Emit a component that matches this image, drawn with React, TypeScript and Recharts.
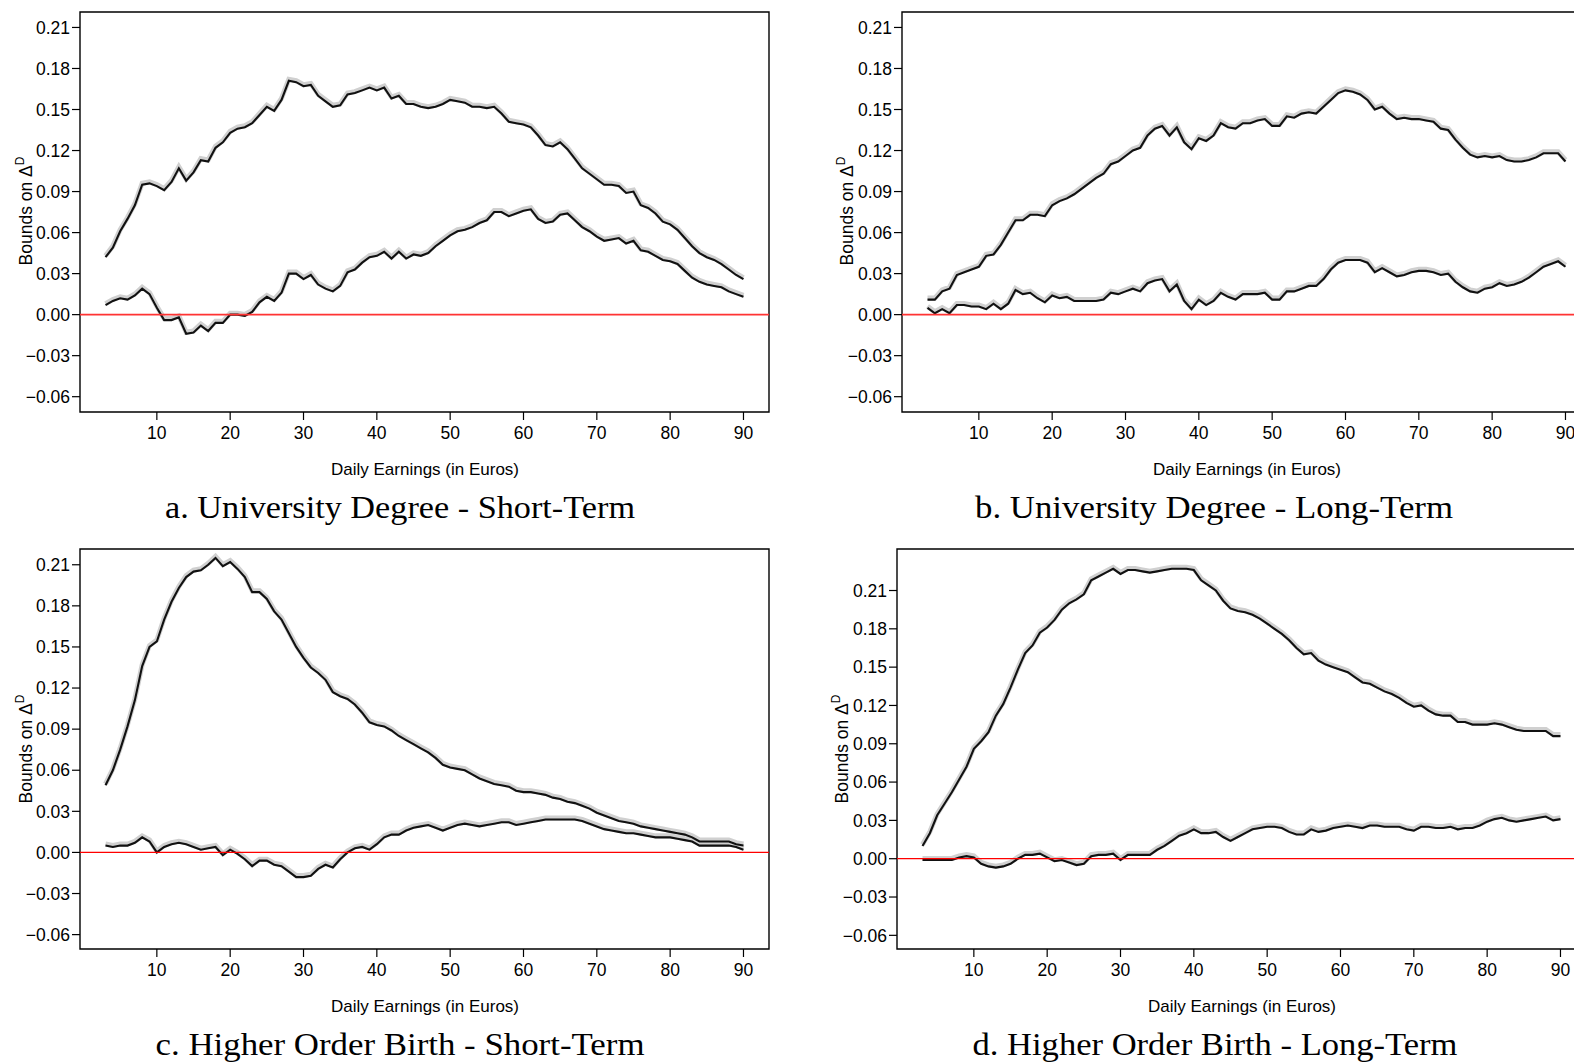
import { LineChart, Line, XAxis, YAxis, ReferenceLine, ReferenceArea } from 'recharts';

// daily earnings grid (euros)
const earnings = [
  3, 4, 5, 6, 7, 8, 9, 10, 11, 12,
  13, 14, 15, 16, 17, 18, 19, 20, 21, 22,
  23, 24, 25, 26, 27, 28, 29, 30, 31, 32,
  33, 34, 35, 36, 37, 38, 39, 40, 41, 42,
  43, 44, 45, 46, 47, 48, 49, 50, 51, 52,
  53, 54, 55, 56, 57, 58, 59, 60, 61, 62,
  63, 64, 65, 66, 67, 68, 69, 70, 71, 72,
  73, 74, 75, 76, 77, 78, 79, 80, 81, 82,
  83, 84, 85, 86, 87, 88, 89, 90,
];

const xTicks = [10, 20, 30, 40, 50, 60, 70, 80, 90];
const yTicks = [-0.06, -0.03, 0, 0.03, 0.06, 0.09, 0.12, 0.15, 0.18, 0.21];

// a. University Degree - Short-Term
const uniShortUpper = [
  0.042, 0.049, 0.061, 0.070, 0.080, 0.095, 0.096, 0.094, 0.091, 0.097,
  0.107, 0.098, 0.104, 0.113, 0.112, 0.122, 0.126, 0.133, 0.136, 0.137,
  0.140, 0.146, 0.152, 0.149, 0.157, 0.171, 0.170, 0.167, 0.168, 0.160,
  0.156, 0.152, 0.153, 0.161, 0.162, 0.164, 0.166, 0.164, 0.166, 0.158,
  0.160, 0.154, 0.154, 0.152, 0.151, 0.152, 0.154, 0.157, 0.156, 0.155,
  0.152, 0.152, 0.151, 0.152, 0.147, 0.141, 0.140, 0.139, 0.137, 0.131,
  0.124, 0.123, 0.126, 0.121, 0.114, 0.107, 0.103, 0.099, 0.095, 0.095,
  0.094, 0.089, 0.090, 0.080, 0.078, 0.074, 0.068, 0.066, 0.062, 0.056,
  0.050, 0.045, 0.042, 0.040, 0.037, 0.033, 0.029, 0.026,
];
const uniShortLower = [
  0.007, 0.010, 0.012, 0.011, 0.014, 0.019, 0.015, 0.005, -0.004, -0.004,
  -0.002, -0.014, -0.013, -0.008, -0.012, -0.006, -0.006, 0.000, 0.000, -0.001,
  0.002, 0.009, 0.013, 0.010, 0.016, 0.030, 0.030, 0.026, 0.029, 0.022,
  0.019, 0.017, 0.021, 0.031, 0.033, 0.038, 0.042, 0.043, 0.046, 0.041,
  0.046, 0.041, 0.044, 0.043, 0.045, 0.050, 0.054, 0.058, 0.061, 0.062,
  0.064, 0.067, 0.069, 0.075, 0.075, 0.072, 0.074, 0.076, 0.077, 0.070,
  0.067, 0.068, 0.073, 0.074, 0.069, 0.064, 0.061, 0.057, 0.054, 0.055,
  0.056, 0.052, 0.054, 0.047, 0.046, 0.043, 0.040, 0.039, 0.037, 0.032,
  0.027, 0.024, 0.022, 0.021, 0.020, 0.017, 0.015, 0.013,
];

// b. University Degree - Long-Term
const uniLongUpper = [
  0.011, 0.011, 0.017, 0.019, 0.029, 0.031, 0.033, 0.035, 0.043, 0.044,
  0.051, 0.060, 0.069, 0.069, 0.073, 0.073, 0.072, 0.080, 0.083, 0.085,
  0.088, 0.092, 0.096, 0.100, 0.103, 0.110, 0.112, 0.116, 0.120, 0.122,
  0.131, 0.136, 0.138, 0.131, 0.137, 0.126, 0.121, 0.129, 0.127, 0.131,
  0.140, 0.137, 0.136, 0.140, 0.140, 0.142, 0.143, 0.138, 0.138, 0.145,
  0.144, 0.147, 0.148, 0.147, 0.152, 0.157, 0.162, 0.164, 0.163, 0.161,
  0.157, 0.150, 0.152, 0.147, 0.143, 0.144, 0.143, 0.143, 0.142, 0.141,
  0.136, 0.135, 0.128, 0.122, 0.117, 0.115, 0.116, 0.115, 0.116, 0.113,
  0.112, 0.112, 0.113, 0.115, 0.118, 0.118, 0.118, 0.112,
];
const uniLongLower = [
  0.005, 0.001, 0.004, 0.001, 0.007, 0.007, 0.006, 0.006, 0.004, 0.008,
  0.004, 0.008, 0.018, 0.015, 0.016, 0.012, 0.009, 0.014, 0.012, 0.013,
  0.010, 0.010, 0.010, 0.010, 0.011, 0.016, 0.015, 0.017, 0.019, 0.017,
  0.023, 0.025, 0.026, 0.017, 0.022, 0.010, 0.004, 0.011, 0.007, 0.010,
  0.016, 0.013, 0.011, 0.015, 0.015, 0.015, 0.016, 0.011, 0.011, 0.017,
  0.017, 0.019, 0.021, 0.021, 0.026, 0.033, 0.038, 0.040, 0.040, 0.040,
  0.038, 0.031, 0.034, 0.031, 0.028, 0.029, 0.031, 0.032, 0.032, 0.031,
  0.029, 0.030, 0.024, 0.020, 0.017, 0.016, 0.019, 0.020, 0.023, 0.021,
  0.022, 0.024, 0.027, 0.031, 0.035, 0.037, 0.039, 0.035,
];

// c. Higher Order Birth - Short-Term
const birthShortUpper = [
  0.049, 0.060, 0.075, 0.092, 0.111, 0.136, 0.150, 0.154, 0.170, 0.183,
  0.193, 0.201, 0.205, 0.206, 0.210, 0.215, 0.209, 0.212, 0.207, 0.201,
  0.190, 0.190, 0.185, 0.176, 0.170, 0.160, 0.150, 0.142, 0.135, 0.131,
  0.126, 0.117, 0.114, 0.112, 0.108, 0.102, 0.095, 0.093, 0.092, 0.089,
  0.085, 0.082, 0.079, 0.076, 0.073, 0.069, 0.064, 0.062, 0.061, 0.060,
  0.057, 0.054, 0.052, 0.050, 0.049, 0.048, 0.045, 0.044, 0.044, 0.043,
  0.042, 0.040, 0.039, 0.037, 0.036, 0.034, 0.032, 0.029, 0.027, 0.025,
  0.023, 0.022, 0.021, 0.019, 0.018, 0.017, 0.016, 0.015, 0.014, 0.013,
  0.011, 0.008, 0.008, 0.008, 0.008, 0.008, 0.006, 0.005,
];
const birthShortLower = [
  0.005, 0.004, 0.005, 0.005, 0.007, 0.011, 0.008, 0.000, 0.004, 0.006,
  0.007, 0.006, 0.004, 0.002, 0.003, 0.004, -0.002, 0.002, -0.001, -0.005,
  -0.010, -0.006, -0.006, -0.009, -0.010, -0.014, -0.018, -0.018, -0.017, -0.012,
  -0.009, -0.011, -0.005, 0.000, 0.003, 0.004, 0.002, 0.006, 0.011, 0.013,
  0.013, 0.016, 0.018, 0.019, 0.020, 0.018, 0.016, 0.018, 0.020, 0.021,
  0.020, 0.019, 0.020, 0.021, 0.022, 0.022, 0.020, 0.021, 0.022, 0.023,
  0.024, 0.024, 0.024, 0.024, 0.024, 0.023, 0.021, 0.019, 0.017, 0.016,
  0.015, 0.014, 0.014, 0.013, 0.012, 0.011, 0.011, 0.011, 0.010, 0.009,
  0.008, 0.005, 0.005, 0.005, 0.005, 0.005, 0.004, 0.002,
];

// d. Higher Order Birth - Long-Term
const birthLongUpper = [
  0.010, 0.020, 0.034, 0.043, 0.052, 0.062, 0.072, 0.086, 0.092, 0.099,
  0.112, 0.121, 0.134, 0.148, 0.161, 0.167, 0.177, 0.181, 0.187, 0.195,
  0.200, 0.203, 0.207, 0.218, 0.221, 0.224, 0.227, 0.223, 0.226, 0.226,
  0.225, 0.224, 0.225, 0.226, 0.227, 0.227, 0.227, 0.226, 0.218, 0.214,
  0.210, 0.202, 0.196, 0.194, 0.193, 0.191, 0.188, 0.184, 0.180, 0.176,
  0.171, 0.165, 0.160, 0.161, 0.155, 0.152, 0.150, 0.148, 0.146, 0.142,
  0.138, 0.137, 0.134, 0.131, 0.129, 0.126, 0.122, 0.119, 0.120, 0.116,
  0.113, 0.112, 0.112, 0.107, 0.107, 0.105, 0.105, 0.105, 0.106, 0.105,
  0.103, 0.101, 0.100, 0.100, 0.100, 0.100, 0.096, 0.096,
];
const birthLongLower = [
  -0.001, -0.001, -0.001, -0.001, -0.001, 0.001, 0.002, 0.001, -0.004, -0.006,
  -0.007, -0.006, -0.004, 0.000, 0.003, 0.003, 0.004, 0.001, -0.002, -0.001,
  -0.003, -0.005, -0.004, 0.002, 0.003, 0.003, 0.004, -0.001, 0.003, 0.003,
  0.003, 0.003, 0.007, 0.010, 0.014, 0.018, 0.020, 0.023, 0.020, 0.020,
  0.021, 0.017, 0.014, 0.017, 0.020, 0.023, 0.024, 0.025, 0.025, 0.024,
  0.021, 0.019, 0.019, 0.023, 0.021, 0.022, 0.024, 0.025, 0.026, 0.025,
  0.024, 0.026, 0.026, 0.025, 0.025, 0.025, 0.023, 0.022, 0.025, 0.025,
  0.024, 0.024, 0.025, 0.023, 0.024, 0.024, 0.026, 0.029, 0.031, 0.032,
  0.030, 0.029, 0.030, 0.031, 0.032, 0.033, 0.030, 0.031,
];

const sans = '"Liberation Sans", Arial, Helvetica, sans-serif';
const serif = '"Liberation Serif", "Times New Roman", serif';
const xDomain: [number, number] = [-0.48, 93.48];

const fmt = (v: number) => {
  const s = Math.abs(v).toFixed(2);
  return v < -1e-9 ? '\u2212' + s : s;
};

interface PanelProps {
  left: number;
  top: number;
  upper: number[];
  lower: number[];
  yDomain: [number, number];
  zeroColor: string;
  zeroWidth: number;
}

function Panel({ left, top, upper, lower, yDomain, zeroColor, zeroWidth }: PanelProps) {
  const data = earnings.map((x, i) => ({ x, upper: upper[i], lower: lower[i] }));
  const tick = { fill: '#000', fontSize: 17.5, fontFamily: sans };
  return (
    <div style={{ position: 'absolute', left, top }}>
      <LineChart width={780} height={450} data={data} margin={{ top: 12, right: 11, bottom: 8, left: 0 }}>
        <XAxis
          type="number"
          dataKey="x"
          domain={xDomain}
          ticks={xTicks}
          allowDataOverflow
          axisLine={false}
          tickLine={{ stroke: '#000', strokeWidth: 1.2 }}
          tickSize={8}
          tickMargin={7}
          height={30}
          tick={tick}
        />
        <YAxis
          type="number"
          domain={yDomain}
          ticks={yTicks}
          allowDataOverflow
          width={80}
          axisLine={false}
          tickLine={{ stroke: '#000', strokeWidth: 1.2 }}
          tickSize={8}
          tickMargin={2}
          tick={tick}
          tickFormatter={fmt}
        />
        <Line dataKey="upper" className="band" stroke="#d0d0d0" strokeWidth={5} dot={false} isAnimationActive={false} />
        <Line dataKey="lower" className="band" stroke="#d0d0d0" strokeWidth={5} dot={false} isAnimationActive={false} />
        <Line dataKey="upper" stroke="#111" strokeWidth={2.1} dot={false} isAnimationActive={false} />
        <Line dataKey="lower" stroke="#111" strokeWidth={2.1} dot={false} isAnimationActive={false} />
        <ReferenceLine y={0} stroke={zeroColor} strokeWidth={zeroWidth} />
        <ReferenceArea
          x1={xDomain[0]}
          x2={xDomain[1]}
          y1={yDomain[0]}
          y2={yDomain[1]}
          stroke="#000"
          strokeWidth={1.4}
          fill="none"
          fillOpacity={0}
        />
      </LineChart>
    </div>
  );
}

function YTitle({ x, y }: { x: number; y: number }) {
  return (
    <text transform={`translate(${x},${y}) rotate(-90)`} textAnchor="middle" fontSize={17.5} fontFamily={sans} fill="#000">
      Bounds on Δ<tspan dy={-8} fontSize={12}>D</tspan>
    </text>
  );
}

function XTitle({ x, y }: { x: number; y: number }) {
  return (
    <text x={x} y={y} textAnchor="middle" fontSize={17} fontFamily={sans} fill="#000">
      Daily Earnings (in Euros)
    </text>
  );
}

function Caption({ x, y, w, children }: { x: number; y: number; w: number; children: string }) {
  return (
    <text x={x} y={y} textAnchor="middle" fontSize={32} fontFamily={serif} fill="#000" textLength={w} lengthAdjust="spacingAndGlyphs">
      {children}
    </text>
  );
}

export default function App() {
  return (
    <div style={{ position: 'absolute', left: 0, top: 0, width: 1574, height: 1063, overflow: 'hidden', background: '#fff' }}>
      <style>{`.band path { transform: translateY(-1.5px); }`}</style>
      <Panel left={0} top={0} upper={uniShortUpper} lower={uniShortLower} yDomain={[-0.0712, 0.2213]} zeroColor="#f33" zeroWidth={1.7} />
      <Panel left={822} top={0} upper={uniLongUpper} lower={uniLongLower} yDomain={[-0.0712, 0.2213]} zeroColor="#f33" zeroWidth={1.7} />
      <Panel left={0} top={537} upper={birthShortUpper} lower={birthShortLower} yDomain={[-0.0705, 0.2215]} zeroColor="#f00" zeroWidth={1.3} />
      <Panel left={817} top={537} upper={birthLongUpper} lower={birthLongLower} yDomain={[-0.0707, 0.2425]} zeroColor="#f00" zeroWidth={1.3} />
      <svg width={1574} height={1063} style={{ position: 'absolute', left: 0, top: 0, pointerEvents: 'none' }}>
        <YTitle x={31.5} y={211} />
        <YTitle x={853} y={211} />
        <YTitle x={31.5} y={749} />
        <YTitle x={848} y={749} />
        <XTitle x={425} y={475} />
        <XTitle x={1247} y={475} />
        <XTitle x={425} y={1012} />
        <XTitle x={1242} y={1012} />
        <Caption x={400} y={518} w={470}>a. University Degree - Short-Term</Caption>
        <Caption x={1214} y={518} w={478}>b. University Degree - Long-Term</Caption>
        <Caption x={400} y={1055} w={489}>c. Higher Order Birth - Short-Term</Caption>
        <Caption x={1215} y={1055} w={485}>d. Higher Order Birth - Long-Term</Caption>
      </svg>
    </div>
  );
}
